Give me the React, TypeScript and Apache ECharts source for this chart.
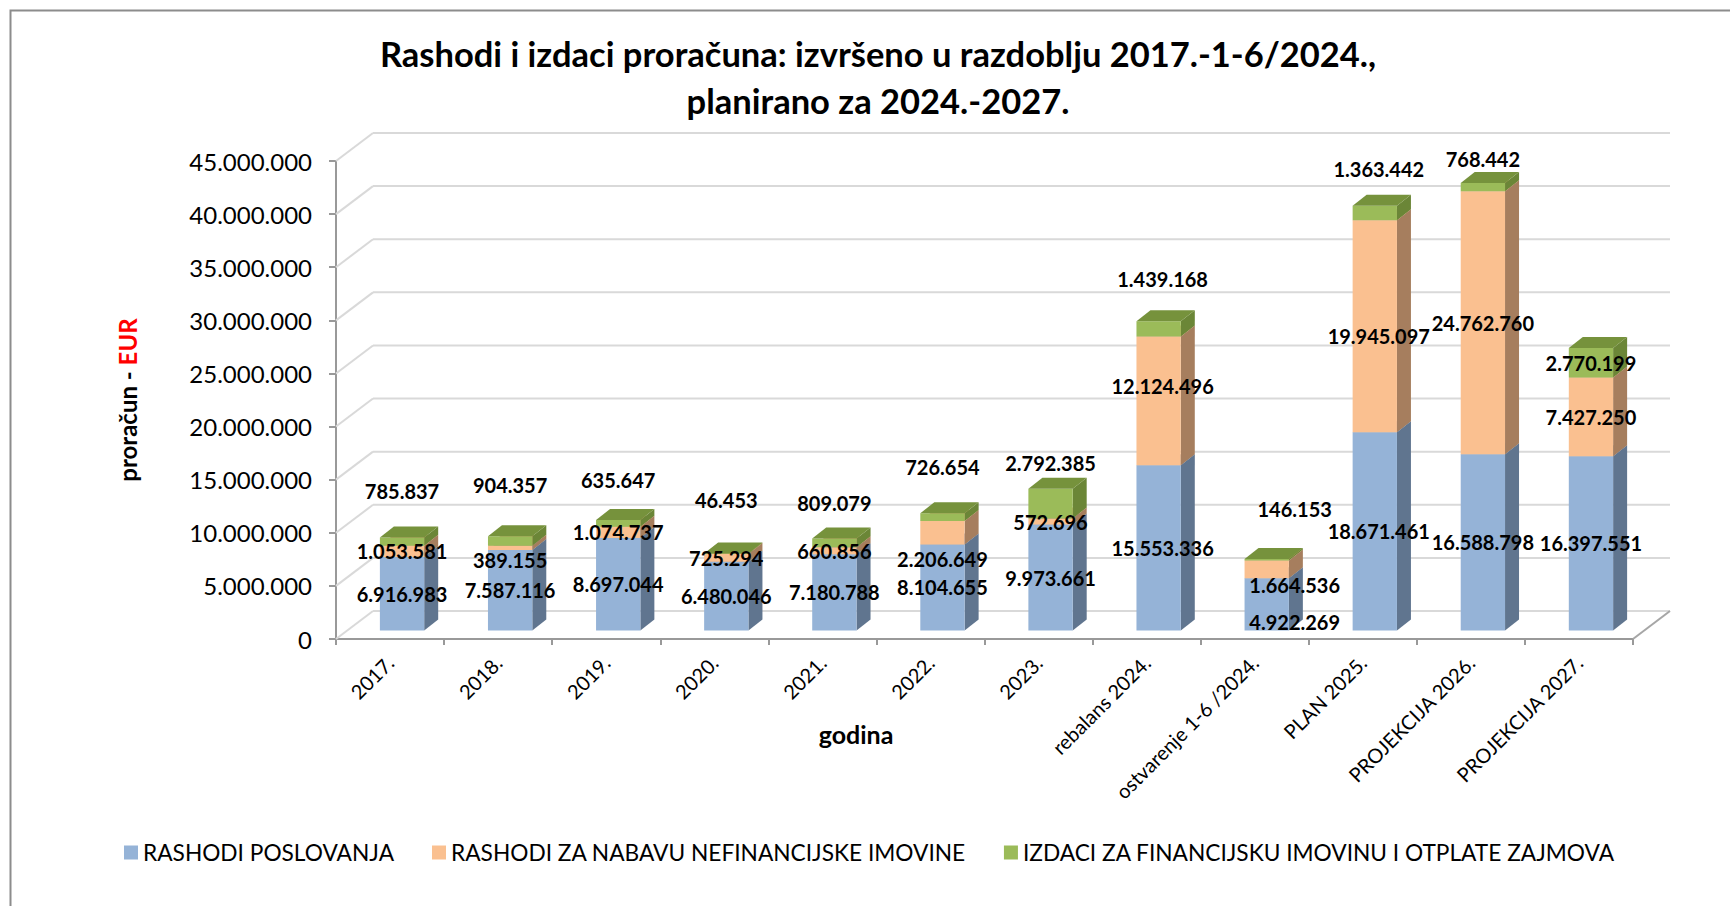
import React, { useEffect, useRef } from "react";
import * as echarts from "echarts";

// ---------------- DATA ----------------
const categories = [
  "2017.",
  "2018.",
  "2019.",
  "2020.",
  "2021.",
  "2022.",
  "2023.",
  "rebalans 2024.",
  "ostvarenje 1-6 /2024.",
  "PLAN 2025.",
  "PROJEKCIJA 2026.",
  "PROJEKCIJA 2027.",
];
const rashodiPoslovanja = [
  6916983, 7587116, 8697044, 6480046, 7180788, 8104655, 9973661, 15553336,
  4922269, 18671461, 16588798, 16397551,
];
const rashodiNefinancijske = [
  1053581, 389155, 1074737, 725294, 660856, 2206649, 572696, 12124496, 1664536,
  19945097, 24762760, 7427250,
];
const izdaciFinancijske = [
  785837, 904357, 635647, 46453, 809079, 726654, 2792385, 1439168, 146153,
  1363442, 768442, 2770199,
];
const seriesNames = [
  "RASHODI POSLOVANJA",
  "RASHODI ZA NABAVU NEFINANCIJSKE IMOVINE",
  "IZDACI ZA FINANCIJSKU IMOVINU I OTPLATE ZAJMOVA",
];
const Y_MAX = 45000000;
const Y_STEP = 5000000;

// ---------------- LAYOUT / STYLE ----------------
const FONT = "Lato, 'Open Sans', sans-serif";
const GRID = { left: 336, top: 161, width: 1297, height: 478 };
const BAR_RATIO = 0.41; // bar width relative to category band
const BAR_SHIFT = [12, -8.5]; // front face offset behind the front plane
const BAR_DEPTH = [14, -11]; // 3D depth of each bar
const WALL_DEPTH = [37, -28]; // depth of walls / floor
const COLORS = [
  { front: "#95B3D7", side: "#60758F", top: "#7790B0" },
  { front: "#FAC090", side: "#A67E5E", top: "#D9A478" },
  { front: "#9BBB59", side: "#6B8637", top: "#76923C" },
];
// manual label placement of the original (pixel nudges)
const GREEN_LIFT: (number | null)[] = [46, 51, 40, 53, 36, 46, 26, 42, 50, 37, 24, null];
const ORANGE_NUDGE = [0, 12, 0, 0, 0, 26, 0, -15, 16, 10, 0, 0];
const BLUE_NUDGE = [0, 0, 0, 0, 0, 0, 0, 0, 18, 0, 0, 0];
const LABEL_DX = [0, 0, 0, 0, 0, 0, 0, 4, 28, 4, 0, 0];

const fmt = (v: number) =>
  Math.round(v)
    .toString()
    .replace(/\B(?=(\d{3})+(?!\d))/g, ".");

const stacks = [rashodiPoslovanja, rashodiNefinancijske, izdaciFinancijske];

function segmentData(s: number) {
  return categories.map((_, i) => {
    let base = 0;
    for (let k = 0; k < s; k++) base += stacks[k][i];
    return [i, base, stacks[s][i]];
  });
}

function segRender(s: number) {
  const col = COLORS[s];
  return (params: any, api: any) => {
    const i = api.value(0);
    const base = api.value(1);
    const v = api.value(2);
    const p0 = api.coord([i, base]);
    const p1 = api.coord([i, base + v]);
    const band = api.size([1, 0])[0];
    const w = band * BAR_RATIO;
    const cx = p0[0] + BAR_SHIFT[0];
    const x0 = cx - w / 2;
    const x1 = cx + w / 2;
    const yb = p0[1] + BAR_SHIFT[1];
    const yt = p1[1] + BAR_SHIFT[1];
    const [dx, dy] = BAR_DEPTH;
    return {
      type: "group",
      children: [
        {
          type: "polygon",
          shape: { points: [[x1, yb], [x1 + dx, yb + dy], [x1 + dx, yt + dy], [x1, yt]] },
          style: { fill: col.side },
        },
        {
          type: "rect",
          shape: { x: x0, y: yt, width: w, height: yb - yt },
          style: { fill: col.front },
        },
        {
          type: "polygon",
          shape: { points: [[x0, yt], [x1, yt], [x1 + dx, yt + dy], [x0 + dx, yt + dy]] },
          style: { fill: col.top },
        },
      ],
    };
  };
}

const labelFont = { fontFamily: FONT, fontSize: 20, fontWeight: "bold" as const };

function labelRender(params: any, api: any) {
  const i = api.value(0);
  const b = rashodiPoslovanja[i];
  const o = rashodiNefinancijske[i];
  const g = izdaciFinancijske[i];
  const pB0 = api.coord([i, 0]);
  const pB1 = api.coord([i, b]);
  const pO1 = api.coord([i, b + o]);
  const pG1 = api.coord([i, b + o + g]);
  const cx = pB0[0] + BAR_SHIFT[0] + LABEL_DX[i];
  const sy = BAR_SHIFT[1];
  const lift = GREEN_LIFT[i];
  const gy = lift === null ? (pO1[1] + pG1[1]) / 2 + sy : pG1[1] + sy - lift;
  const mk = (text: string, y: number) => ({
    type: "text",
    style: {
      text,
      x: cx,
      y,
      fill: "#000",
      align: "center",
      verticalAlign: "middle",
      ...labelFont,
    },
  });
  return {
    type: "group",
    children: [
      mk(fmt(b), (pB0[1] + pB1[1]) / 2 + sy + BLUE_NUDGE[i]),
      mk(fmt(o), (pB1[1] + pO1[1]) / 2 + sy + ORANGE_NUDGE[i]),
      mk(fmt(g), gy),
    ],
  };
}

const yTickValues: number[] = [];
for (let v = 0; v <= Y_MAX; v += Y_STEP) yTickValues.push(v);

function wallRender(params: any, api: any) {
  const v = api.value(0);
  const cs = params.coordSys;
  const y = api.coord([0, v])[1];
  const [dx, dy] = WALL_DEPTH;
  const ls = { stroke: "#D9D9D9", lineWidth: 2 };
  const children: any[] = [
    { type: "line", shape: { x1: cs.x, y1: y, x2: cs.x + dx, y2: y + dy }, style: ls },
    {
      type: "line",
      shape: { x1: cs.x + dx, y1: y + dy, x2: cs.x + cs.width + dx, y2: y + dy },
      style: ls,
    },
  ];
  if (v === 0) {
    children.push({
      type: "line",
      shape: { x1: cs.x + cs.width, y1: y, x2: cs.x + cs.width + dx, y2: y + dy },
      style: { stroke: "#A6A6A6", lineWidth: 2 },
    });
  }
  return { type: "group", children };
}

export default function App() {
  const ref = useRef<HTMLDivElement>(null);
  useEffect(() => {
    if (!ref.current) return;
    const chart = echarts.init(ref.current, undefined, { renderer: "svg" });
    const option: any = {
      animation: false,
      backgroundColor: "#fff",
      textStyle: { fontFamily: FONT },
      grid: { ...GRID, containLabel: false },
      xAxis: {
        type: "category",
        data: categories,
        axisLine: { show: true, lineStyle: { color: "#999999", width: 2 } },
        axisTick: { show: true, length: 6, lineStyle: { color: "#999999", width: 2 } },
        axisLabel: {
          interval: 0,
          rotate: 45,
          margin: 20,
          color: "#000",
          fontFamily: FONT,
          fontSize: 20,
        },
        splitLine: { show: false },
      },
      yAxis: {
        type: "value",
        min: 0,
        max: Y_MAX,
        interval: Y_STEP,
        axisLine: { show: true, lineStyle: { color: "#999999", width: 2 } },
        axisTick: { show: true, length: 7, lineStyle: { color: "#999999", width: 2 } },
        axisLabel: {
          margin: 24,
          color: "#000",
          fontFamily: FONT,
          fontSize: 24,
          formatter: (v: number) => fmt(v),
        },
        splitLine: { show: false },
      },
      legend: {
        data: seriesNames,
        left: 124,
        top: 841,
        padding: 0,
        icon: "rect",
        itemWidth: 14,
        itemHeight: 14,
        itemGap: 38,
        textStyle: { color: "#000", fontFamily: FONT, fontSize: 22.7 },
      },
      graphic: [
        {
          type: "rect",
          z: -10,
          shape: { x: 10.5, y: 10.5, width: 1760, height: 940 },
          style: { fill: "none", stroke: "#8C8C8C", lineWidth: 2 },
        },
        {
          type: "text",
          x: 878,
          y: 53,
          style: {
            text: "Rashodi i izdaci proračuna: izvršeno u razdoblju 2017.-1-6/2024.,",
            fill: "#000",
            font: `bold 34.5px ${FONT}`,
            align: "center",
            verticalAlign: "middle",
          },
        },
        {
          type: "text",
          x: 878,
          y: 100,
          style: {
            text: "planirano za 2024.-2027.",
            fill: "#000",
            font: `bold 34.5px ${FONT}`,
            align: "center",
            verticalAlign: "middle",
          },
        },
        {
          type: "text",
          x: 127,
          y: 400,
          rotation: Math.PI / 2,
          style: {
            text: "{a|proračun - }{b|EUR}",
            align: "center",
            verticalAlign: "middle",
            rich: {
              a: { fill: "#000", fontFamily: FONT, fontSize: 24, fontWeight: "bold" },
              b: { fill: "#FF0000", fontFamily: FONT, fontSize: 24, fontWeight: "bold" },
            },
          },
        },
        {
          type: "text",
          x: 856,
          y: 734,
          style: {
            text: "godina",
            fill: "#000",
            font: `bold 25px ${FONT}`,
            align: "center",
            verticalAlign: "middle",
          },
        },
      ],
      series: [
        {
          type: "custom",
          name: "walls",
          z: 1,
          silent: true,
          renderItem: wallRender,
          data: yTickValues.map((v) => [v]),
          encode: { y: 0 },
        },
        ...[0, 1, 2].map((s) => ({
          type: "custom",
          name: seriesNames[s],
          z: 2,
          itemStyle: { color: COLORS[s].front },
          renderItem: segRender(s),
          data: segmentData(s),
          encode: { x: 0, y: [1, 2] },
        })),
        {
          type: "custom",
          name: "labels",
          z: 5,
          silent: true,
          renderItem: labelRender,
          data: categories.map((_, i) => [i]),
          encode: { x: 0 },
        },
      ],
    };
    chart.setOption(option);
    return () => chart.dispose();
  }, []);
  return (
    <div
      ref={ref}
      style={{ position: "fixed", left: 0, top: 0, width: 1730, height: 906, background: "#fff" }}
    />
  );
}
